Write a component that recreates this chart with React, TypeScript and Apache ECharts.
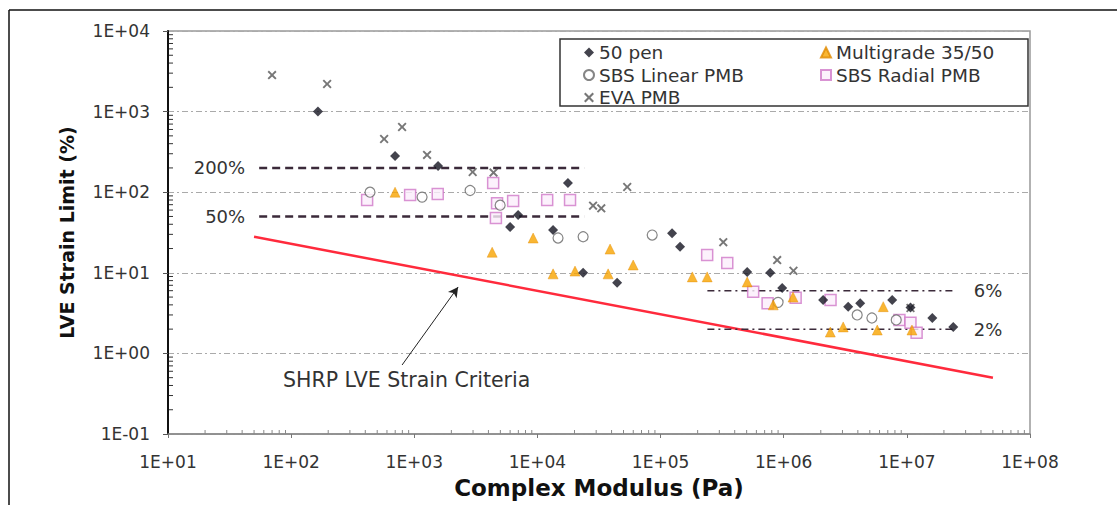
import React, { useEffect, useRef } from "react";
import * as echarts from "echarts";

// ---- data (Complex Modulus Pa, LVE strain limit %) ----
const pen50: number[][] = [
  [165, 1000], [698, 281], [1560, 211], [17700, 130], [6000, 37], [6970, 52],
  [13400, 34], [23500, 10], [44400, 7.5], [124000, 31], [144000, 21], [505000, 10.2],
  [777000, 10], [972000, 6.5], [2.09e6, 4.6], [3.34e6, 3.8], [4.18e6, 4.2],
  [7.6e6, 4.6], [1.07e7, 3.7], [1.61e7, 2.75], [2.38e7, 2.13],
];
const multigrade: number[][] = [
  [698, 100], [4290, 18], [9230, 27], [13400, 9.7], [20200, 10.5], [37500, 9.7],
  [38900, 19.7], [59900, 12.5], [181000, 8.9], [239000, 8.9], [505000, 7.7],
  [822000, 4.0], [1.19e6, 5.0], [2.39e6, 1.84], [3.04e6, 2.13], [5.75e6, 1.95],
  [6.43e6, 3.8], [1.1e7, 1.95],
];
const sbsLinear: number[][] = [
  [437, 100], [1157, 87], [2840, 105], [4980, 69], [14700, 27], [23500, 28],
  [85500, 29.4], [900000, 4.3], [3.95e6, 3.0], [5.2e6, 2.75], [8.2e6, 2.6],
];
const sbsRadial: number[][] = [
  [414, 80], [925, 92], [1550, 95], [4370, 130], [4700, 73], [6350, 78], [4600, 48],
  [12000, 80], [18400, 80], [239000, 16.6], [348000, 13.2], [565000, 5.8],
  [740000, 4.2], [1.25e6, 4.9], [2.4e6, 4.6], [8.7e6, 2.6], [1.07e7, 2.4], [1.2e7, 1.8],
];
const eva: number[][] = [
  [70, 2840], [196, 2200], [569, 457], [796, 644], [1270, 290], [2980, 178],
  [4400, 175], [53600, 116], [28300, 68], [33000, 63], [323000, 24], [885000, 14.4],
  [1.2e6, 10.6], [1.07e7, 3.66],
];
const shrpCriteria: number[][] = [[50, 28], [5e7, 0.5]];
const line200: number[][] = [[55, 200], [24000, 200]];
const line50: number[][] = [[55, 50], [24000, 50]];
const line6: number[][] = [[240000, 6], [2.5e7, 6]];
const line2: number[][] = [[240000, 2], [2.5e7, 2]];
const arrowFrom: number[] = [796, 0.718];
const arrowTo: number[] = [2270, 6.67];
const xRange = [10, 1e8];
const yRange = [0.1, 1e4];
const xDecades = [1, 2, 3, 4, 5, 6, 7];
const yDecades = [-1, 0, 1, 2, 3];
const minorMultipliers = [2, 3, 4, 5, 6, 7, 8, 9];

const FONT = "'DejaVu Sans', Verdana, sans-serif";
const fmtExp = (v: number) => {
  const e = Math.round(Math.log10(v));
  return "1E" + (e < 0 ? "-" : "+") + String(Math.abs(e)).padStart(2, "0");
};
const XSYM = "path://M0,1.5L1.5,0L5,3.5L8.5,0L10,1.5L6.5,5L10,8.5L8.5,10L5,6.5L1.5,10L0,8.5L3.5,5Z";

// minor tick positions (axis decorations, not data)
const minorTicks: number[][] = [];
yDecades.forEach((e) =>
  minorMultipliers.forEach((m) => minorTicks.push([xRange[0], m * Math.pow(10, e)]))
);
xDecades.forEach((e) =>
  minorMultipliers.forEach((m) => minorTicks.push([m * Math.pow(10, e), yRange[0]]))
);

export default function App() {
  const ref = useRef<HTMLDivElement>(null);
  useEffect(() => {
    document.body.style.margin = "0";
    const chart = echarts.init(ref.current!, null, { renderer: "svg" });
    const refLine = (name: string, data: number[][], type: any, width: number) => ({
      name, type: "line", data, symbol: "none", silent: true, z: 1,
      lineStyle: { color: "#3b2a3a", width, type },
    });
    const legendText = { fontFamily: FONT, fontSize: 18.5, color: "#333", lineHeight: 18 };
    chart.setOption({
      animation: false,
      backgroundColor: "#fff",
      grid: {
        left: 168, right: 87, top: 31, bottom: 71, show: true,
        borderColor: "#999", borderWidth: 1.5,
      },
      legend: [
        {
          data: ["50 pen", "SBS Linear PMB", "EVA PMB"], orient: "vertical",
          left: 578, top: 38, itemWidth: 10, itemHeight: 10, itemGap: 3.5,
          textStyle: legendText,
        },
        {
          data: ["Multigrade 35/50", "SBS Radial PMB"], orient: "vertical",
          left: 815, top: 38, itemWidth: 10, itemHeight: 10, itemGap: 3.5,
          textStyle: legendText,
        },
      ],
      xAxis: {
        type: "log", logBase: 10, min: xRange[0], max: xRange[1],
        name: "Complex Modulus (Pa)", nameLocation: "middle", nameGap: 42,
        nameTextStyle: { fontFamily: FONT, fontSize: 23, fontWeight: "bold", color: "#111" },
        axisLine: { lineStyle: { color: "#888", width: 1.5 } },
        axisTick: { show: true, length: 4, lineStyle: { color: "#777" } },
        axisLabel: { formatter: fmtExp, fontFamily: FONT, fontSize: 17, color: "#333", margin: 19 },
        splitLine: { show: false },
      },
      yAxis: {
        type: "log", logBase: 10, min: yRange[0], max: yRange[1],
        name: "LVE Strain Limit (%)", nameLocation: "middle", nameGap: 92, nameRotate: 90,
        nameTextStyle: { fontFamily: FONT, fontSize: 19, fontWeight: "bold", color: "#111" },
        axisLine: { lineStyle: { color: "#111", width: 2 } },
        axisTick: { show: true, length: 5, lineStyle: { color: "#555" } },
        axisLabel: { formatter: fmtExp, fontFamily: FONT, fontSize: 17, color: "#333", margin: 18 },
        splitLine: { show: true, lineStyle: { color: "#aaa", width: 1, type: [6, 3, 2, 3] } },
      },
      series: [
        {
          type: "custom", silent: true, z: 6, data: minorTicks, clip: false,
          dimensions: ["x", "y"], encode: { x: "x", y: "y" },
          renderItem: (params: any, api: any) => {
            const xv = api.value(0);
            const pt = api.coord([xv, api.value(1)]);
            const isY = xv <= xRange[0];
            return {
              type: "line",
              shape: isY
                ? { x1: pt[0] + 1, y1: pt[1], x2: pt[0] + 5, y2: pt[1] }
                : { x1: pt[0], y1: pt[1], x2: pt[0], y2: pt[1] - 4 },
              style: { stroke: isY ? "#333" : "#888", lineWidth: 1 },
            };
          },
        },
        {
          name: "SHRP LVE Strain Criteria", type: "line", data: shrpCriteria, symbol: "none",
          silent: true, z: 1, lineStyle: { color: "#ff2a3c", width: 2.5 },
          markLine: {
            silent: true, symbol: ["none", "arrow"], symbolSize: [8, 10],
            label: { show: false },
            lineStyle: { color: "#222", width: 1, type: "solid" },
            data: [[{ coord: arrowFrom }, { coord: arrowTo }]],
          },
        },
        refLine("200%", line200, [8, 5], 2.5),
        refLine("50%", line50, [8, 5], 2.5),
        refLine("6%", line6, [7, 4, 2, 4], 1.5),
        refLine("2%", line2, [7, 4, 2, 4], 1.5),
        {
          name: "SBS Radial PMB", type: "scatter", data: sbsRadial, symbol: "rect", symbolSize: 11,
          itemStyle: { color: "#fbeefb", borderColor: "#d078c8", borderWidth: 1.5 }, z: 3,
        },
        {
          name: "SBS Linear PMB", type: "scatter", data: sbsLinear, symbol: "circle", symbolSize: 10,
          itemStyle: { color: "#fff", borderColor: "#666", borderWidth: 1.2 }, z: 3,
        },
        {
          name: "EVA PMB", type: "scatter", data: eva, symbol: XSYM, symbolSize: 9,
          itemStyle: { color: "#555" }, z: 3,
        },
        {
          name: "Multigrade 35/50", type: "scatter", data: multigrade, symbol: "triangle", symbolSize: 10,
          itemStyle: { color: "#f7a400", borderColor: "#e08a00", borderWidth: 0.5 }, z: 4,
        },
        {
          name: "50 pen", type: "scatter", data: pen50, symbol: "diamond", symbolSize: 10,
          itemStyle: { color: "#141420" }, z: 5,
        },
      ],
    });
    const px = (v: number[]) => chart.convertToPixel({ gridIndex: 0 }, v) as number[];
    const p200 = px(line200[0]);
    const p50 = px(line50[0]);
    const p6 = px(line6[1]);
    const p2 = px(line2[1]);
    const txt = (x: number, y: number, text: string, align: string, size = 18) => ({
      type: "text", x, y, z: 10, silent: true,
      style: { text, fontFamily: FONT, fontSize: size, fill: "#333", align, verticalAlign: "middle" },
    });
    chart.setOption({
      graphic: [
        { type: "line", shape: { x1: 9, y1: 10, x2: 1117, y2: 10 }, style: { stroke: "#111", lineWidth: 1.5 } },
        { type: "line", shape: { x1: 9, y1: 10, x2: 9, y2: 505 }, style: { stroke: "#111", lineWidth: 1.5 } },
        {
          type: "rect", shape: { x: 560, y: 39, width: 468, height: 67 }, z: -1,
          style: { fill: "#fff", stroke: "#333", lineWidth: 1.5 },
        },
        txt(p200[0] - 14, p200[1], "200%", "right"),
        txt(p50[0] - 14, p50[1], "50%", "right"),
        txt(p6[0] + 18, p6[1], "6%", "left"),
        txt(p2[0] + 18, p2[1], "2%", "left"),
        txt(283, 380, "SHRP LVE Strain Criteria", "left", 20.5),
      ],
    });
    return () => chart.dispose();
  }, []);
  return <div ref={ref} style={{ width: 1117, height: 505 }} />;
}
